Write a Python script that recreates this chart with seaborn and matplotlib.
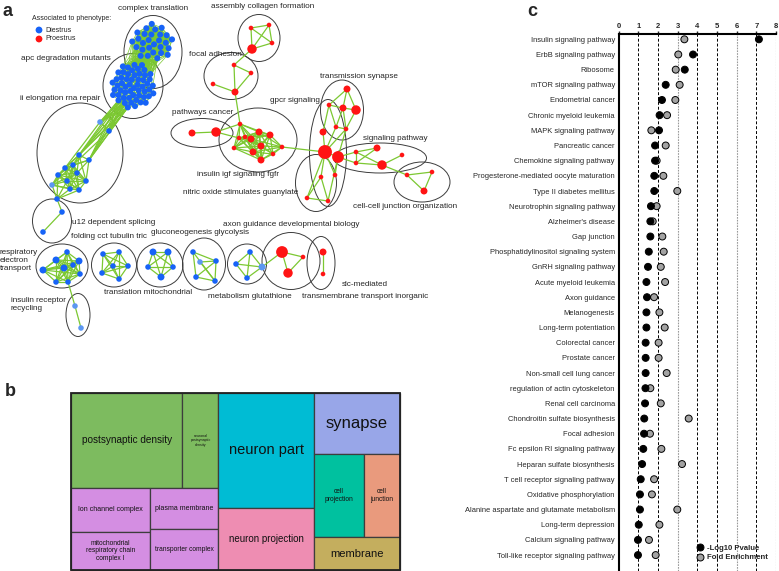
import numpy as np
import pandas as pd
import matplotlib.pyplot as plt
import seaborn as sns
from itertools import combinations
from matplotlib.patches import Ellipse, Rectangle
from matplotlib.collections import LineCollection
from matplotlib.lines import Line2D

# ---------------- panel c : KEGG pathways ----------------
pathways = [
    'Insulin signaling pathway', 'ErbB signaling pathway', 'Ribosome',
    'mTOR signaling pathway', 'Endometrial cancer', 'Chronic myeloid leukemia',
    'MAPK signaling pathway', 'Pancreatic cancer', 'Chemokine signaling pathway',
    'Progesterone-mediated oocyte maturation', 'Type II diabetes mellitus',
    'Neurotrophin signaling pathway', "Alzheimer's disease", 'Gap junction',
    'Phosphatidylinositol signaling system', 'GnRH signaling pathway',
    'Acute myeloid leukemia', 'Axon guidance', 'Melanogenesis',
    'Long-term potentiation', 'Colorectal cancer', 'Prostate cancer',
    'Non-small cell lung cancer', 'regulation of actin cytoskeleton',
    'Renal cell carcinoma', 'Chondroitin sulfate biosynthesis', 'Focal adhesion',
    'Fc epsilon RI signaling pathway', 'Heparan sulfate biosynthesis',
    'T cell receptor signaling pathway', 'Oxidative phosphorylation',
    'Alanine aspartate and glutamate metabolism', 'Long-term depression',
    'Calcium signaling pathway', 'Toll-like receptor signaling pathway',
]
neg_log10_pvalue = [7.13, 3.78, 3.36, 2.39, 2.20, 2.08, 2.05, 1.85, 1.85, 1.81,
                    1.81, 1.64, 1.61, 1.61, 1.53, 1.49, 1.41, 1.44, 1.41, 1.41,
                    1.37, 1.37, 1.37, 1.36, 1.34, 1.30, 1.29, 1.25, 1.19, 1.12,
                    1.08, 1.08, 1.02, 0.98, 0.98]
fold_enrichment = [3.34, 3.03, 2.90, 3.10, 2.88, 2.46, 1.66, 2.39, 1.93, 2.27,
                   2.98, 1.93, 1.73, 2.22, 2.29, 2.14, 2.36, 1.80, 2.07, 2.34,
                   2.03, 2.03, 2.44, 1.61, 2.14, 3.56, 1.59, 2.17, 3.22, 1.80,
                   1.69, 2.98, 2.07, 1.54, 1.88]

# ---------------- panel b : GO cellular component treemap ----------------
go_terms = ['postsynaptic density', 'neuronal\npostsynaptic\ndensity',
            'Ion channel complex', 'mitochondrial\nrespiratory chain\ncomplex I',
            'plasma membrane', 'transporter complex', 'neuron part',
            'neuron projection', 'synapse', 'cell\nprojection', 'cell\njunction',
            'membrane']
go_sizes = [105, 34, 35, 30, 28, 28, 109, 59, 52, 42, 30, 28]

# ---------------- panel a : enrichment map clusters ----------------
phenotypes = ['Diestrus', 'Proestrus']
cluster_names = ['complex translation', 'apc degradation mutants',
                 'ii elongation rna repair', 'u12 dependent splicing',
                 'respiratory electron transport', 'insulin receptor recycling',
                 'folding cct tubulin tric', 'translation mitochondrial',
                 'gluconeogenesis glycolysis', 'metabolism glutathione',
                 'axon guidance developmental biology',
                 'slc-mediated transmembrane transport inorganic',
                 'assembly collagen formation', 'focal adhesion', 'pathways cancer',
                 'insulin igf signaling fgfr', 'nitric oxide stimulates guanylate',
                 'gpcr signaling', 'transmission synapse', 'signaling pathway',
                 'cell-cell junction organization']
cluster_phenotype = ['Diestrus'] * 10 + ['Proestrus'] * 11
dense_cluster_nodes = {'complex translation': 28, 'apc degradation mutants': 55}

# ---------------- styles / layout ----------------
sns.set_style('white')
plt.rcParams['font.family'] = ['Liberation Sans', 'DejaVu Sans']

BLUE, LBLUE, RED = '#1763f7', '#5c97f2', '#ff1414'
EDGE = '#7cc832'
RING = '#3c3c3c'

fig = plt.figure(figsize=(7.79, 5.71), dpi=100)
ax = fig.add_axes([0, 0, 1, 1])
ax.set_xlim(0, 779)
ax.set_ylim(571, 0)
ax.axis('off')

# ellipse outlines (cx, cy, w, h)
rings = {
    'complex translation': (153, 52, 58, 73),
    'apc degradation mutants': (133, 86, 60, 65),
    'ii elongation rna repair': (80, 153, 86, 100),
    'u12 dependent splicing': (52, 221, 39, 44),
    'respiratory electron transport': (62, 266, 52, 44),
    'insulin receptor recycling': (78, 315, 24, 43),
    'folding cct tubulin tric': (114, 265, 45, 44),
    'translation mitochondrial': (160, 265, 46, 44),
    'gluconeogenesis glycolysis': (204, 264, 43, 52),
    'metabolism glutathione': (247, 264, 39, 40),
    'axon guidance developmental biology': (291, 261, 58, 57),
    'slc-mediated transmembrane transport inorganic': (321, 263, 28, 53),
    'assembly collagen formation': (259, 38, 42, 47),
    'focal adhesion': (231, 76, 54, 47),
    'pathways cancer': (202, 133, 62, 29),
    'insulin igf signaling fgfr': (258, 140, 78, 64),
    'nitric oxide stimulates guanylate': (316, 183, 41, 57),
    'gpcr signaling': (328, 153, 37, 107),
    'transmission synapse': (342, 110, 43, 60),
    'signaling pathway': (380, 158, 93, 30),
    'cell-cell junction organization': (422, 182, 56, 40),
}

# text labels (x, y, ha, text)
ring_labels = [
    (153, 8, 'center', 'complex translation'),
    (263, 7, 'center', 'assembly collagen formation'),
    (66, 59, 'center', 'apc degradation mutants'),
    (215, 54, 'center', 'focal adhesion'),
    (60, 99, 'center', 'ii elongation rna repair'),
    (203, 113, 'center', 'pathways cancer'),
    (359, 76, 'center', 'transmission synapse'),
    (295, 101, 'center', 'gpcr signaling'),
    (395, 138, 'center', 'signaling pathway'),
    (238, 174, 'center', 'insulin igf signaling fgfr'),
    (241, 193, 'center', 'nitric oxide stimulates guanylate'),
    (405, 206, 'center', 'cell-cell junction organization'),
    (72, 222, 'left', 'u12 dependent splicing'),
    (109, 237, 'center', 'folding cct tubulin tric'),
    (200, 233, 'center', 'gluconeogenesis glycolysis'),
    (291, 224, 'center', 'axon guidance developmental biology'),
    (0, 261, 'left', 'respiratory\nelectron\ntransport'),
    (148, 293, 'center', 'translation mitochondrial'),
    (250, 296, 'center', 'metabolism glutathione'),
    (365, 285, 'center', 'slc-mediated'),
    (365, 296, 'center', 'transmembrane transport inorganic'),
    (11, 305, 'left', 'insulin receptor\nrecycling'),
]

# hand layout of the small clusters: nodes (x, y, size, tone), edges
small_layout = {
    'ii elongation rna repair': (
        [(100, 122, 's', 'l'), (109, 131, 's', 'b'), (79, 155, 's', 'b'), (89, 160, 's', 'b'),
         (73, 165, 's', 'b'), (65, 168, 's', 'b'), (58, 175, 's', 'b'), (77, 173, 's', 'b'),
         (67, 181, 's', 'b'), (86, 181, 's', 'b'), (52, 185, 's', 'l'), (70, 189, 's', 'b'),
         (79, 190, 's', 'b'), (57, 199, 's', 'b')], 30),
    'u12 dependent splicing': ([(62, 212, 's', 'b'), (43, 232, 's', 'b')], 'all'),
    'respiratory electron transport': (
        [(67, 252, 's', 'b'), (56, 260, 'm', 'b'), (79, 261, 'm', 'b'), (43, 270, 'm', 'b'),
         (64, 268, 'm', 'b'), (80, 274, 's', 'b'), (56, 282, 's', 'b'), (68, 282, 's', 'b'),
         (73, 265, 's', 'b')], 'all'),
    'insulin receptor recycling': ([(75, 306, 's', 'l'), (81, 328, 's', 'l')], 'all'),
    'folding cct tubulin tric': (
        [(103, 254, 's', 'b'), (119, 252, 's', 'b'), (128, 266, 's', 'b'), (119, 279, 's', 'b'),
         (102, 273, 's', 'b'), (113, 266, 's', 'b')], 'all'),
    'translation mitochondrial': (
        [(153, 252, 'm', 'b'), (168, 252, 'm', 'b'), (173, 267, 's', 'b'), (161, 277, 'm', 'b'),
         (148, 267, 's', 'b')], 'all'),
    'gluconeogenesis glycolysis': (
        [(193, 252, 's', 'b'), (216, 261, 's', 'b'), (215, 281, 's', 'b'), (196, 277, 's', 'b'),
         (200, 262, 's', 'l')], [(0, 1), (0, 3), (1, 2), (2, 3), (4, 1), (4, 2), (0, 2), (1, 3)]),
    'metabolism glutathione': (
        [(250, 252, 's', 'b'), (236, 264, 's', 'b'), (247, 278, 's', 'b'), (262, 267, 'm', 'l')],
        'all'),
    'axon guidance developmental biology': (
        [(282, 252, 'xl', 'r'), (303, 257, 'xs', 'r'), (288, 273, 'l', 'r')], 'all'),
    'slc-mediated transmembrane transport inorganic': (
        [(323, 252, 'm', 'r'), (323, 274, 'xs', 'r')], 'all'),
    'assembly collagen formation': (
        [(251, 28, 'xs', 'r'), (269, 25, 'xs', 'r'), (272, 43, 'xs', 'r'), (252, 49, 'l', 'r')],
        'all'),
    'focal adhesion': (
        [(234, 65, 'xs', 'r'), (251, 73, 'xs', 'r'), (213, 84, 'xs', 'r'), (235, 92, 'm', 'r')],
        [(0, 1), (0, 3), (1, 3), (2, 3)]),
    'pathways cancer': ([(192, 133, 'm', 'r'), (216, 132, 'l', 'r')], 'all'),
    'insulin igf signaling fgfr': (
        [(240, 124, 'xs', 'r'), (239, 138, 'xs', 'r'), (234, 148, 'xs', 'r'), (245, 137, 'xs', 'r'),
         (251, 139, 'm', 'r'), (259, 132, 'm', 'r'), (270, 135, 'm', 'r'), (253, 152, 'm', 'r'),
         (261, 146, 'm', 'r'), (261, 160, 'm', 'r'), (273, 154, 'xs', 'r'), (282, 147, 'xs', 'r')],
        34),
    'nitric oxide stimulates guanylate': (
        [(321, 177, 'xs', 'r'), (307, 198, 'xs', 'r'), (328, 201, 'xs', 'r')], 'all'),
    'transmission synapse': (
        [(347, 89, 'm', 'r'), (329, 105, 'xs', 'r'), (343, 108, 'm', 'r'), (356, 110, 'l', 'r'),
         (336, 127, 'xs', 'r'), (346, 129, 'xs', 'r')],
        [(0, 1), (0, 2), (0, 3), (1, 2), (2, 3), (2, 4), (2, 5), (3, 5), (1, 4), (4, 5)]),
    'gpcr signaling': (
        [(323, 132, 'm', 'r'), (325, 152, 'xxl', 'r'), (338, 157, 'xl', 'r'), (335, 175, 'xs', 'r')],
        [(0, 1), (1, 2), (2, 3), (1, 3)]),
    'signaling pathway': (
        [(356, 152, 'xs', 'r'), (377, 148, 'm', 'r'), (402, 155, 'xs', 'r'), (382, 165, 'l', 'r'),
         (356, 163, 'xs', 'r')], [(0, 1), (0, 3), (1, 4), (4, 3), (3, 2), (0, 4)]),
    'cell-cell junction organization': (
        [(407, 175, 'xs', 'r'), (432, 172, 'xs', 'r'), (424, 191, 'm', 'r')], 'all'),
}

# edges between clusters (pixel endpoints of the layout)
bridge_edges = [
    ((57, 199), (62, 212)), ((68, 282), (75, 306)), ((252, 49), (234, 65)),
    ((235, 92), (240, 124)), ((216, 132), (240, 124)), ((216, 132), (239, 138)),
    ((282, 147), (325, 152)), ((325, 152), (321, 177)), ((325, 152), (307, 198)),
    ((338, 157), (328, 201)), ((338, 157), (356, 152)), ((338, 157), (356, 163)),
    ((382, 165), (407, 175)), ((325, 152), (336, 127)), ((325, 152), (346, 129)),
    ((323, 132), (329, 105)), ((338, 157), (346, 129)), ((282, 252), (262, 267)),
]


def sunflower(cx, cy, rx, ry, n):
    i = np.arange(n) + 0.5
    r = np.sqrt(i / n)
    t = i * np.pi * (3 - np.sqrt(5))
    return np.c_[cx + rx * r * np.cos(t), cy + ry * r * np.sin(t)]


node_rows = []
edges, thin_edges = [], []

dense_geom = {'complex translation': (153, 42, 21, 19), 'apc degradation mutants': (133, 86, 22, 23)}
dense_pts = {}
for name, n in dense_cluster_nodes.items():
    pts = sunflower(*dense_geom[name], n)
    dense_pts[name] = pts
    for x, y in pts:
        node_rows.append(dict(x=x, y=y, sz='d', tone='b'))
    lim = 28 if name == 'complex translation' else 13
    for a, b in combinations(range(n), 2):
        if np.hypot(*(pts[a] - pts[b])) < lim:
            thin_edges.append([pts[a], pts[b]])
ct, apc = dense_pts['complex translation'], dense_pts['apc degradation mutants']
for p in ct:
    for q in apc:
        if np.hypot(*(p - q)) < 30:
            thin_edges.append([p, q])

for name, (nodes, ed) in small_layout.items():
    pts = np.array([(x, y) for x, y, _, _ in nodes], float)
    for x, y, sz, tone in nodes:
        node_rows.append(dict(x=x, y=y, sz=sz, tone=tone))
    if ed == 'all':
        pairs = list(combinations(range(len(pts)), 2))
    elif isinstance(ed, (int, float)):
        pairs = [(a, b) for a, b in combinations(range(len(pts)), 2)
                 if np.hypot(*(pts[a] - pts[b])) < ed]
    else:
        pairs = ed
    for a, b in pairs:
        edges.append([pts[a], pts[b]])

# apc -> ii elongation bundle
ii_pts = np.array([(x, y) for x, y, _, _ in small_layout['ii elongation rna repair'][0]], float)
for q in apc[(apc[:, 1] > 96) & (apc[:, 0] < 132)]:
    for p in ii_pts[[0, 1, 2, 3]]:
        edges.append([q, p])
edges.append([ii_pts[1], ii_pts[4]])
edges.append([ii_pts[0], ii_pts[5]])
for p, q in bridge_edges:
    edges.append([p, q])

ax.add_collection(LineCollection(thin_edges, colors=EDGE, linewidths=0.5, zorder=1))
ax.add_collection(LineCollection(edges, colors=EDGE, linewidths=0.9, zorder=1))

for name, (cx, cy, w, h) in rings.items():
    ax.add_patch(Ellipse((cx, cy), w, h, fill=False, ec=RING, lw=0.7, zorder=0.5))

nodes_df = pd.DataFrame(node_rows)
sns.scatterplot(data=nodes_df, x='x', y='y', hue='tone', size='sz',
                palette={'b': BLUE, 'l': LBLUE, 'r': RED},
                sizes={'xs': 11, 's': 16, 'd': 19, 'm': 25, 'l': 46, 'xl': 72, 'xxl': 100},
                linewidth=0, legend=False, ax=ax, zorder=3)
ax.set_xlim(0, 779)
ax.set_ylim(571, 0)
ax.axis('off')

for x, y, ha, t in ring_labels:
    ax.text(x, y, t, ha=ha, va='center', fontsize=5.9, linespacing=1.2, zorder=4)

# phenotype legend
ax.text(32, 19, 'Associated to phenotype:', fontsize=5.0, va='center')
ax.scatter([39, 39], [30, 39], s=24, c=[BLUE, RED], linewidths=0, zorder=4)
ax.text(45, 30, phenotypes[0], fontsize=5.0, va='center')
ax.text(45, 39, phenotypes[1], fontsize=5.0, va='center')

# ---------------- panel b treemap ----------------
go_colors = ['#7dbb5f', '#7dbb5f', '#d48ee2', '#d48ee2', '#d48ee2', '#d48ee2',
             '#00bcd4', '#ee8db2', '#98a6e8', '#00c19f', '#e99a7d', '#c4ae5e']
go_fontsize = [7.2, 2.6, 5.0, 4.8, 5.0, 4.8, 10.5, 7.0, 12, 4.8, 4.8, 8]
tm_tree = ('h', [('v', [('h', [0, 1]), ('h', [('v', [2, 3]), ('v', [4, 5])])]),
                 ('v', [6, 7]),
                 ('v', [8, ('h', [9, 10]), 11])])


def total(node):
    if isinstance(node, int):
        return go_sizes[node]
    return sum(total(k) for k in node[1])


def squarify(node, x, y, w, h, out):
    if isinstance(node, int):
        out[node] = (x, y, w, h)
        return
    d, kids = node
    tot, off = total(node), 0.0
    for k in kids:
        f = total(k) / tot
        if d == 'h':
            squarify(k, x + off * w, y, w * f, h, out)
        else:
            squarify(k, x, y + off * h, w, h * f, out)
        off += f


cells = {}
squarify(tm_tree, 71, 393, 329, 177, cells)
for i, (x, y, w, h) in cells.items():
    ax.add_patch(Rectangle((x, y), w, h, fc=go_colors[i], ec='#3d3d3d', lw=0.9))
    ax.text(x + w / 2, y + h / 2, go_terms[i], ha='center', va='center',
            fontsize=go_fontsize[i], linespacing=1.1, color='#111111')
ax.add_patch(Rectangle((71, 393), 329, 177, fill=False, ec='#222222', lw=1.3))

# panel letters
ax.text(3, 11, 'a', fontsize=13, fontweight='bold', va='center')
ax.text(5, 392, 'b', fontsize=13, fontweight='bold', va='center')
ax.text(527, 11, 'c', fontsize=13, fontweight='bold', va='center')

# ---------------- panel c dot plot ----------------
axc = fig.add_axes([618.7 / 779, 0.0, 157.3 / 779, 1 - 33.7 / 571])
df_c = pd.DataFrame({
    'pathway': pathways * 2,
    'value': fold_enrichment + neg_log10_pvalue,
    'metric': ['Fold Enrichment'] * len(pathways) + ['-Log10 Pvalue'] * len(pathways),
})
for v in range(1, 9):
    gray = v in (3, 6, 8)
    axc.axvline(v, color='#9a9a9a' if gray else 'black', lw=0.8 if gray else 0.7,
                ls=(0, (1.5, 1)) if gray else (0, (3, 2)), zorder=0)
sns.stripplot(data=df_c, x='value', y='pathway', hue='metric', order=pathways,
              hue_order=['Fold Enrichment', '-Log10 Pvalue'],
              palette={'Fold Enrichment': '#a3a3a3', '-Log10 Pvalue': 'black'},
              jitter=False, dodge=False, size=5.0, linewidth=0.7, edgecolor='black',
              legend=False, ax=axc, zorder=3)
axc.set_xlim(0, 8)
axc.set_ylim(35.05, -0.37)
axc.set_xlabel('')
axc.set_ylabel('')
axc.xaxis.tick_top()
axc.set_xticks(range(9))
axc.tick_params(axis='x', labelsize=5.5, length=2, width=1, pad=1)
axc.tick_params(axis='y', labelsize=5.4, length=1.8, width=1, pad=1)
for t in axc.get_xticklabels():
    t.set_fontweight('bold')
for s in ('right', 'bottom'):
    axc.spines[s].set_visible(False)
for s in ('top', 'left'):
    axc.spines[s].set_linewidth(1.5)
    axc.spines[s].set_color('black')
axc.patch.set_alpha(0)

handles = [Line2D([], [], ls='', marker='o', ms=5, mfc='black', mec='black', mew=0.7),
           Line2D([], [], ls='', marker='o', ms=5, mfc='#a3a3a3', mec='black', mew=0.7)]
leg = axc.legend(handles, ['-Log10 Pvalue', 'Fold Enrichment'], loc='lower left',
                 bbox_to_anchor=(0.48, 0.012), frameon=False, fontsize=5.6,
                 handlelength=0.8, handletextpad=0.4, labelspacing=0.25, borderaxespad=0)
for t in leg.get_texts():
    t.set_fontweight('bold')

fig.savefig('out.png', dpi=100)
